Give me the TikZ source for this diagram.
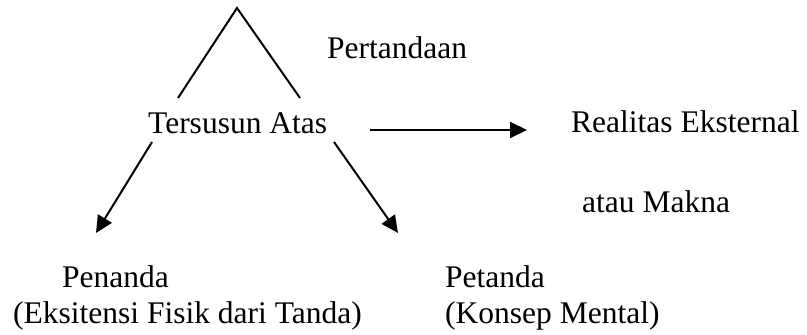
\documentclass[tikz,border=0pt]{standalone}
\usepackage{fontspec}
\setmainfont{Liberation Serif}
\usetikzlibrary{arrows.meta}
\begin{document}
\begin{tikzpicture}[x=1pt,y=-1pt,
  lbl/.style={anchor=base west,inner sep=0pt,font=\fontsize{31.5}{38}\selectfont},
  ln/.style={line width=2pt},
  arr/.style={line width=2pt,-{Triangle[length=17pt,width=16pt]}}]
\useasboundingbox (0,0) rectangle (807,335);
% text
\node[lbl] (pert) at (327,58) {Pertandaan};
\node[lbl] (ters) at (148,133) {Tersusun Atas};
\node[lbl] (real) at (571,132) {Realitas Eksternal};
\node[lbl] (makna) at (582,212) {atau Makna};
\node[lbl] (pen) at (62,287) {Penanda};
\node[lbl] (pen2) at (13,323) {(Eksitensi Fisik dari Tanda)};
\node[lbl] (pet) at (445,287) {Petanda};
\node[lbl] (pet2) at (445,323) {(Konsep Mental)};
% coordinates
\coordinate (apex) at (237,8);
\coordinate (lfoot) at (178,98);
\coordinate (rfoot) at (300,98);
\coordinate (hs) at (370,130);
\coordinate (he) at (527,130);
\coordinate (ls) at (152,142);
\coordinate (le) at (96,233);
\coordinate (rs) at (334,142);
\coordinate (re) at (398,233);
% connectors
\draw[ln] (lfoot) -- (apex) -- (rfoot);
\draw[arr] (hs) -- (he);
\draw[arr] (ls) -- (le);
\draw[arr] (rs) -- (re);
\end{tikzpicture}
\end{document}
